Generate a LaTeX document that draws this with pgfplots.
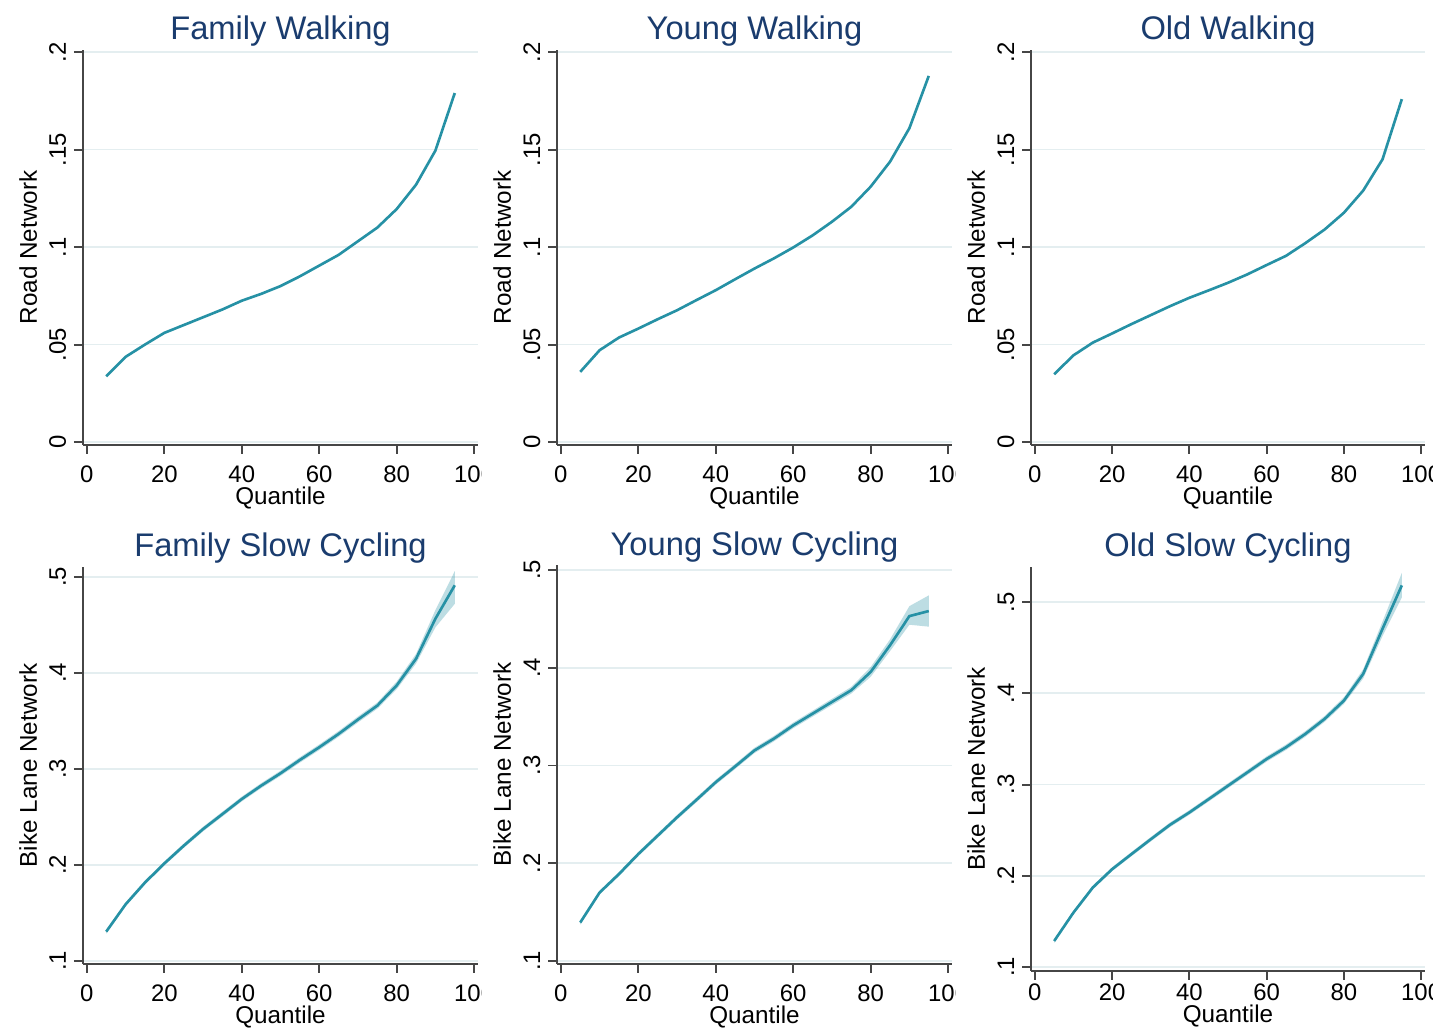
\documentclass[border=0pt]{standalone}
\usepackage{pgfplots}
\pgfplotsset{compat=1.18}
\usepackage{pgfplotstable}
\usepackage{fontspec}
\setmainfont{Liberation Sans}
\definecolor{linec}{RGB}{38,145,165}
\definecolor{titlec}{RGB}{26,60,110}
\definecolor{gridc}{RGB}{228,238,240}
\definecolor{axisc}{RGB}{70,70,70}

\pgfplotstableread{
q y
5 .0337
10 .0437
15 .0500
20 .0560
25 .0600
30 .0640
35 .0680
40 .0725
45 .0760
50 .0800
55 .0850
60 .0905
65 .0960
70 .1030
75 .1100
80 .1195
85 .1320
90 .1495
95 .1790
}\fw
\pgfplotstableread{
q y
5 .0360
10 .0471
15 .0536
20 .0582
25 .0630
30 .0676
35 .0728
40 .0779
45 .0835
50 .0890
55 .0942
60 .0998
65 .1060
70 .1130
75 .1207
80 .1310
85 .1438
90 .1610
95 .1878
}\yw
\pgfplotstableread{
q y
5 .0348
10 .0445
15 .0510
20 .0557
25 .0605
30 .0651
35 .0697
40 .0740
45 .0778
50 .0817
55 .0860
60 .0908
65 .0955
70 .1020
75 .1090
80 .1176
85 .1290
90 .1450
95 .1759
}\ow
% Family slow cycling: estimate
\pgfplotstableread{
q y
5 .1306
10 .1590
15 .1817
20 .2016
25 .2200
30 .2374
35 .2530
40 .2687
45 .2826
50 .2955
55 .3094
60 .3226
65 .3365
70 .3515
75 .3660
80 .3870
85 .4148
90 .4565
95 .4913
}\fs
% Family slow cycling: confidence band (lower bound up, upper bound back)
\pgfplotstableread{
q b
5 .1286
10 .1570
15 .1795
20 .1994
25 .2177
30 .2350
35 .2505
40 .2662
45 .2800
50 .2928
55 .3066
60 .3197
65 .3335
70 .3484
75 .3628
80 .3830
85 .4098
90 .4475
95 .4720
95 .5060
90 .4655
85 .4198
80 .3910
75 .3692
70 .3546
65 .3395
60 .3255
55 .3122
50 .2982
45 .2852
40 .2712
35 .2555
30 .2398
25 .2223
20 .2038
15 .1839
10 .1610
5 .1326
}\fsb
\pgfplotstableread{
q y
5 .1393
10 .1700
15 .1889
20 .2094
25 .2282
30 .2470
35 .2648
40 .2829
45 .2990
50 .3154
55 .3274
60 .3410
65 .3530
70 .3650
75 .3770
80 .3957
85 .4230
90 .4528
95 .4580
}\ys
\pgfplotstableread{
q b
5 .1373
10 .1680
15 .1867
20 .2072
25 .2259
30 .2446
35 .2623
40 .2804
45 .2964
50 .3127
55 .3246
60 .3381
65 .3500
70 .3618
75 .3736
80 .3907
85 .4170
90 .4440
95 .4420
95 .4740
90 .4630
85 .4290
80 .4007
75 .3804
70 .3682
65 .3560
60 .3439
55 .3302
50 .3181
45 .3016
40 .2854
35 .2673
30 .2494
25 .2305
20 .2116
15 .1911
10 .1720
5 .1413
}\ysb
\pgfplotstableread{
q y
5 .1285
10 .1597
15 .1871
20 .2072
25 .2237
30 .2400
35 .2559
40 .2694
45 .2840
50 .2987
55 .3133
60 .3280
65 .3408
70 .3554
75 .3719
80 .3920
85 .4213
90 .4707
95 .5183
}\os
\pgfplotstableread{
q b
5 .1265
10 .1577
15 .1849
20 .2050
25 .2214
30 .2376
35 .2534
40 .2669
45 .2814
50 .2960
55 .3105
60 .3251
65 .3378
70 .3523
75 .3687
80 .3884
85 .4163
90 .4627
95 .5050
95 .5320
90 .4787
85 .4263
80 .3956
75 .3751
70 .3585
65 .3438
60 .3309
55 .3161
50 .3014
45 .2866
40 .2719
35 .2584
30 .2424
25 .2260
20 .2094
15 .1893
10 .1617
5 .1305
}\osb

\pgfplotsset{
 every axis title shift=0pt,
 panel/.style={
  scale only axis, anchor=south west,
  xmin=-1, xmax=101,
  axis x line*=bottom, axis y line*=left,
  axis line style={axisc, line width=0.55pt},
  tick align=outside, major tick length=0.09cm,
  every tick/.style={axisc, line width=0.55pt},
  xtick={0,20,40,60,80,100}, xticklabels={0,20,40,60,80,100},
  minor tick num=0,
  ticklabel style={font=\fontsize{6.8}{8}\selectfont, color=black},
  xticklabel style={anchor=base},
  xticklabel shift=0.29cm,
  yticklabel style={rotate=90, anchor=base},
  yticklabel shift=0.08cm,
  ymajorgrids, grid style={gridc, line width=0.5pt},
  title style={font=\fontsize{9.3}{11}\selectfont, color=titlec, at={(axis description cs:0.5,1)}, anchor=base, yshift=0.10cm},
  xlabel=Quantile,
  xlabel style={font=\fontsize{6.9}{8}\selectfont, at={(axis description cs:0.5,0)}, anchor=base, yshift=-0.60cm},
  ylabel style={font=\fontsize{6.9}{8}\selectfont, at={(axis description cs:-0.117,0.5)}, anchor=base},
 },
 walk/.style={panel, ymin=-0.0015, ymax=0.2011, ytick={0,0.05,0.1,0.15,0.2}, yticklabels={0,.05,.1,.15,.2}, ylabel={Road Network}},
 cyc/.style={panel, ytick={0.1,0.2,0.3,0.4,0.5}, yticklabels={.1,.2,.3,.4,.5}, ylabel={Bike Lane Network}},
 band/.style={fill=linec, fill opacity=0.3, draw=none},
 est/.style={linec, line width=0.75pt},
}

\begin{document}
\begin{tikzpicture}
\path[use as bounding box] (0,0) rectangle (14.46cm,10.31cm);
\fill[white] (0,0) rectangle (14.46cm,10.31cm);
% Row 1
\begin{scope}
\clip (0,0) rectangle (4.81cm,10.31cm);
\begin{axis}[walk, at={(0.83cm,5.86cm)}, width=3.95cm, height=3.95cm, title={Family Walking}]
\addplot[est] table[x=q,y=y]{\fw};
\end{axis}
\end{scope}
\begin{scope}
\clip (4.81cm,0) rectangle (9.55cm,10.31cm);
\begin{axis}[walk, at={(5.57cm,5.86cm)}, width=3.95cm, height=3.95cm, title={Young Walking}]
\addplot[est] table[x=q,y=y]{\yw};
\end{axis}
\end{scope}
\begin{scope}
\clip (9.55cm,0) rectangle (14.32cm,10.31cm);
\begin{axis}[walk, at={(10.31cm,5.86cm)}, width=3.94cm, height=3.95cm, title={Old Walking}]
\addplot[est] table[x=q,y=y]{\ow};
\end{axis}
\end{scope}
% Row 2
\begin{scope}
\clip (0,0) rectangle (4.81cm,10.31cm);
\begin{axis}[cyc, at={(0.83cm,0.67cm)}, width=3.95cm, height=3.97cm, ymin=0.0969, ymax=0.5104, title={Family Slow Cycling}]
\addplot[band] table[x=q,y=b]{\fsb} -- cycle;
\addplot[est] table[x=q,y=y]{\fs};
\end{axis}
\end{scope}
\begin{scope}
\clip (4.81cm,0) rectangle (9.55cm,10.31cm);
\begin{axis}[cyc, at={(5.57cm,0.67cm)}, width=3.95cm, height=3.99cm, ymin=0.0969, ymax=0.5051, title={Young Slow Cycling}]
\addplot[band] table[x=q,y=b]{\ysb} -- cycle;
\addplot[est] table[x=q,y=y]{\ys};
\end{axis}
\end{scope}
\begin{scope}
\clip (9.55cm,0) rectangle (14.32cm,10.31cm);
\begin{axis}[cyc, at={(10.31cm,0.60cm)}, width=3.94cm, height=4.04cm, ymin=0.0956, ymax=0.5385, title={Old Slow Cycling},
  xticklabel shift=0.21cm, xlabel style={yshift=0.08cm}]
\addplot[band] table[x=q,y=b]{\osb} -- cycle;
\addplot[est] table[x=q,y=y]{\os};
\end{axis}
\end{scope}
\end{tikzpicture}
\end{document}
